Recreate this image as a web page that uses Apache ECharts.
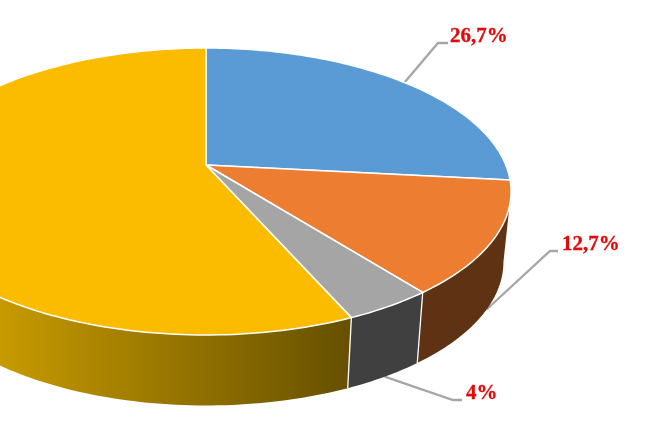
<!DOCTYPE html>
<html><head><meta charset="utf-8">
<style>html,body{margin:0;padding:0;background:#fff}#c{width:655px;height:421px}</style>
<script src="https://cdn.jsdelivr.net/npm/echarts@6/dist/echarts.min.js"></script>
</head><body><div id="c"></div>
<script>
const categories = ['Slice 1', 'Slice 2', 'Slice 3', 'Slice 4'];
const values = [26.7, 12.7, 4, 56.6];
const labels = ['26,7%', '12,7%', '4%', ''];

// Layout and styling of the tilted pie (a perspective view of a circle)
const VIEW = { cx: 206, cy: 165, r: 299.8, a: 108.1, persp: -0.1847, depth: 70.5, shrink: 0.975 };
const TOP_COLORS = ['#5B9BD5', '#EC7D31', '#A5A5A5', '#FBBC00'];
const WALL_COLORS = ['#2F5F8C', '#5F3214', '#404040', null];
const LABEL_LAYOUT = [
  { knee: [438, 43], end: [448, 43], text: [450, 37], rim: 'top' },
  { knee: [550, 251], end: [558, 251], text: [562, 245], rim: 'bottom' },
  { knee: [453, 400], end: [462, 400], text: [466, 394], rim: 'bottom' }
];

const total = values.reduce((s, v) => s + v, 0);
const starts = [];
values.reduce((s, v, i) => { starts[i] = s; return s + v; }, 0);
const toAngle = v => v / total * 2 * Math.PI;

function project(t, bottom) {
  const x = Math.sin(t), y = -Math.cos(t);
  const d = 1 + VIEW.persp * y;
  const px = VIEW.r * x / d, py = (VIEW.a * y + VIEW.cy) / d;
  return bottom ? [VIEW.cx + VIEW.shrink * px, py + VIEW.depth] : [VIEW.cx + px, py];
}
function arc(t0, t1, bottom) {
  const n = Math.max(2, Math.ceil(Math.abs(t1 - t0) / 0.02));
  const pts = [];
  for (let i = 0; i <= n; i++) pts.push(project(t0 + (t1 - t0) * i / n, bottom));
  return pts;
}
// The wall faces the viewer only between these two angles
const FRONT0 = Math.PI / 2 + Math.asin(-VIEW.persp);
const FRONT1 = 2 * Math.PI - FRONT0;

const yellowWall = new echarts.graphic.LinearGradient(0, 0, 350, 0, [
  { offset: 0, color: '#C79A00' }, { offset: 1, color: '#665000' }
], true);

function wallItem(params, api) {
  const i = params.dataIndex;
  const t0 = Math.max(toAngle(starts[i]), FRONT0);
  const t1 = Math.min(toAngle(starts[i] + api.value(0)), FRONT1);
  if (t1 <= t0) return { type: 'group', children: [] };
  const top = arc(t0, t1, false), bot = arc(t0, t1, true);
  const children = [{
    type: 'polygon',
    shape: { points: top.concat(bot.reverse()) },
    style: { fill: WALL_COLORS[i] || yellowWall, stroke: null }
  }];
  if (t0 > FRONT0) children.push({
    type: 'line',
    shape: { x1: top[0][0], y1: top[0][1], x2: project(t0, true)[0], y2: project(t0, true)[1] },
    style: { stroke: '#fff', lineWidth: 1.3 }
  });
  return { type: 'group', children };
}
function topItem(params, api) {
  const i = params.dataIndex;
  const t0 = toAngle(starts[i]), t1 = toAngle(starts[i] + api.value(0));
  return {
    type: 'polygon',
    shape: { points: [[VIEW.cx, VIEW.cy]].concat(arc(t0, t1, false)) },
    style: { fill: TOP_COLORS[i], stroke: '#fff', lineWidth: 1.5, lineJoin: 'round' }
  };
}
function leaderItem(params, api) {
  const i = params.dataIndex, l = LABEL_LAYOUT[i];
  if (!l) return { type: 'group', children: [] };
  const mid = toAngle(starts[i] + api.value(0) / 2);
  const p = project(mid, l.rim === 'bottom');
  return {
    type: 'group',
    children: [{
      type: 'polyline',
      shape: { points: [p, l.knee, l.end] },
      style: { stroke: '#A6A6A6', lineWidth: 2.3, fill: null }
    }, {
      type: 'text',
      style: {
        text: labels[i], x: l.text[0], y: l.text[1], fill: '#E00A0A',
        stroke: '#E00A0A', lineWidth: 0.3,
        font: 'bold 21px "Liberation Serif", "Times New Roman", serif',
        textAlign: 'left', textVerticalAlign: 'middle'
      }
    }]
  };
}
const data = categories.map((c, i) => ({ name: c, value: values[i] }));
const chart = echarts.init(document.getElementById('c'), null, { renderer: 'canvas' });
chart.setOption({
  animation: false,
  backgroundColor: '#fff',
  series: [
    { type: 'custom', coordinateSystem: 'none', z: 1, silent: true, data, renderItem: leaderItem },
    { type: 'custom', coordinateSystem: 'none', z: 2, silent: true, data, renderItem: wallItem },
    { type: 'custom', coordinateSystem: 'none', z: 3, silent: true, data, renderItem: topItem }
  ]
});
</script></body></html>
